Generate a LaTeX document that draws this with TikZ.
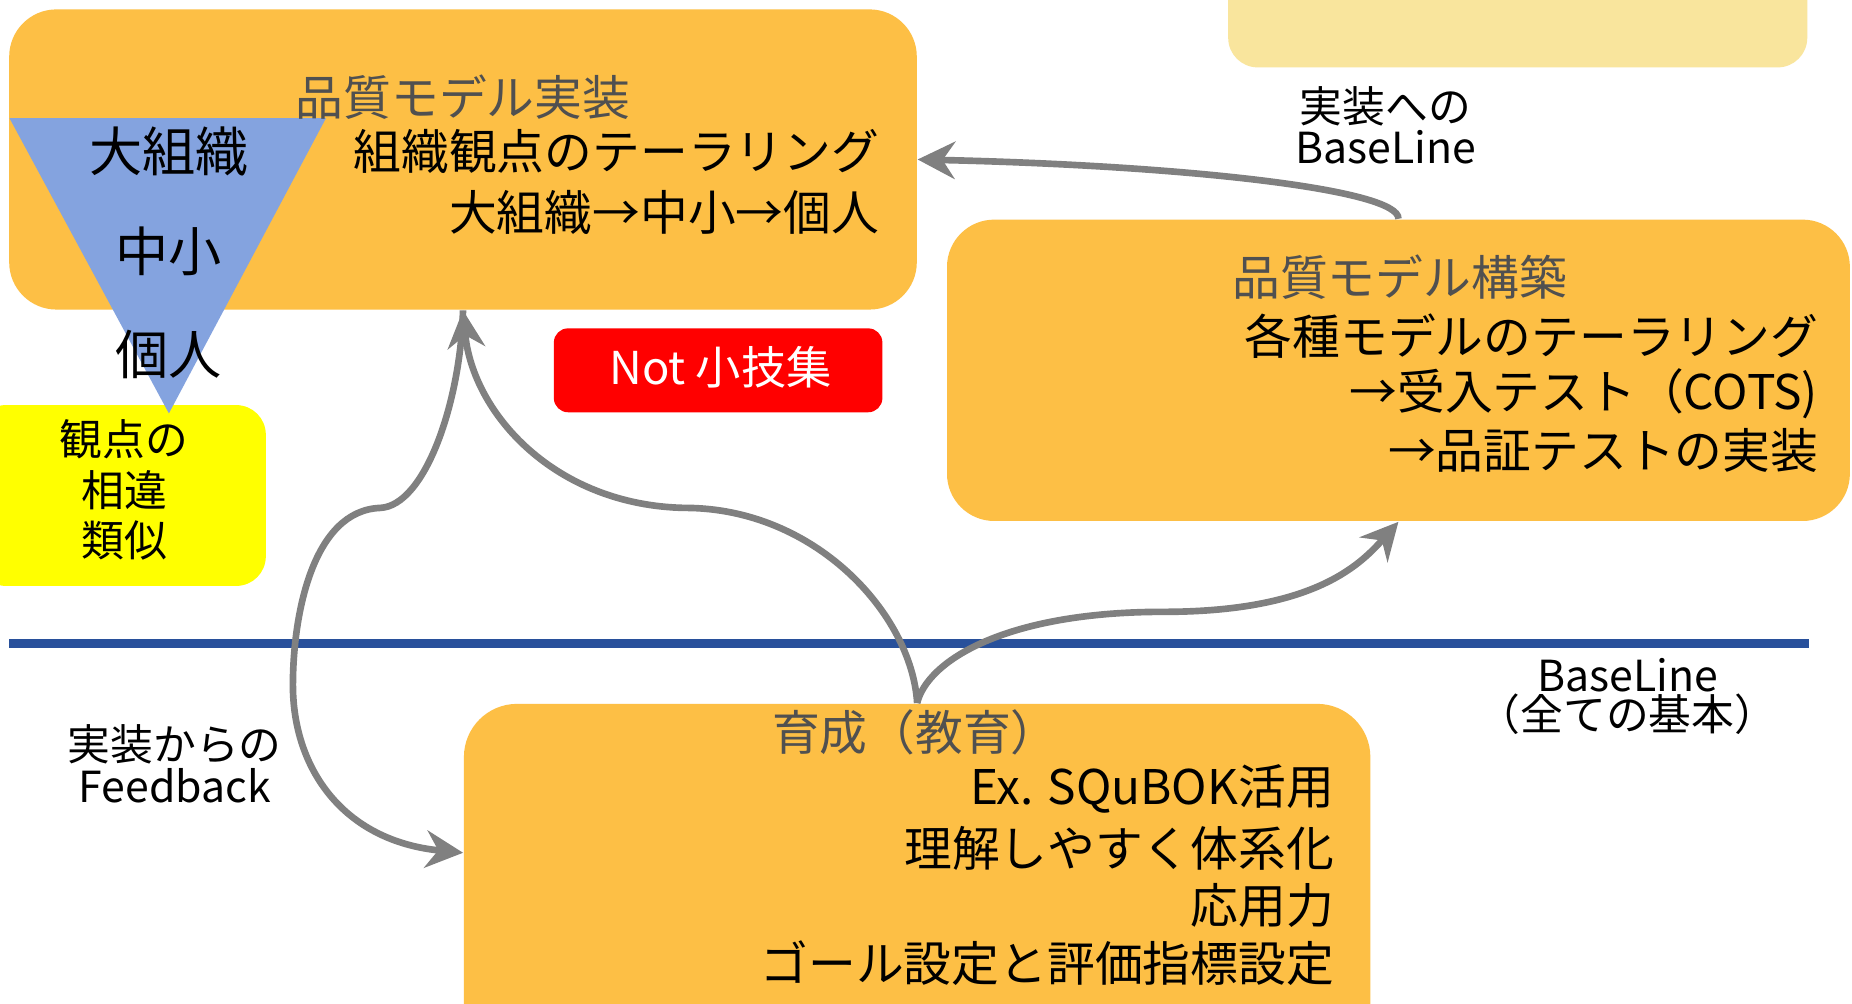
\documentclass[tikz,border=0pt]{standalone}
\usepackage{fontspec}
\setmainfont{Noto Sans CJK JP}
\usetikzlibrary{arrows.meta}
\definecolor{boxorange}{RGB}{253,191,69}
\definecolor{triblue}{RGB}{132,163,223}
\definecolor{titlegray}{RGB}{80,80,80}
\definecolor{arrgray}{RGB}{128,128,128}
\definecolor{baseblue}{RGB}{40,80,155}
\definecolor{paleyellow}{RGB}{249,229,157}
\definecolor{notred}{RGB}{255,0,0}
\definecolor{yel}{RGB}{255,255,0}
\tikzset{
  panel/.style={fill=boxorange, draw=none, rounded corners=0.4cm, inner sep=0},
  maintxt/.style={font=\fontsize{11.5}{13}\selectfont, inner sep=0, text=black},
  titletxt/.style={font=\fontsize{11.5}{13}\selectfont, inner sep=0, text=titlegray},
  tritxt/.style={font=\fontsize{12.8}{14}\selectfont, inner sep=0, text=black},
  smalltxt/.style={font=\fontsize{10.3}{12}\selectfont, inner sep=0, text=black},
  arr/.style={draw=arrgray, line width=1.6pt, -{Stealth[length=9pt,width=9pt,inset=3pt]}},
}
\begin{document}
\begin{tikzpicture}[x=0.01cm,y=-0.01cm]
\useasboundingbox (0,0) rectangle (1568,850);
\clip (0,0) rectangle (1568,850);
\fill[white] (0,0) rectangle (1568,850);

% top right pale box (cut off)
\node[fill=paleyellow, rounded corners=0.25cm, minimum width=4.9cm, minimum height=1.2cm, inner sep=0] (topbox) at (1285,-3) {};

% boxes
\node[panel, minimum width=7.68cm, minimum height=2.54cm] (impl) at (392,135) {};
\node[panel, minimum width=7.64cm, minimum height=2.55cm] (build) at (1184,313.5) {};
\node[panel, rounded corners=0.45cm, minimum width=7.67cm, minimum height=3.04cm] (edu) at (776.5,748) {};
\node[fill=notred, rounded corners=0.12cm, minimum width=2.78cm, minimum height=0.71cm, inner sep=0] (notbox) at (608,313.5) {};
\node[fill=yel, rounded corners=0.25cm, minimum width=2.45cm, minimum height=1.53cm, inner sep=0] (yelbox) at (102.5,419.5) {};

% triangle
\fill[triblue] (8,100) -- (276,100) -- (143,350) -- cycle;

% impl texts
\node[titletxt] (impltitle) at (392,82) {品質モデル実装};
\node[tritxt] (t1) at (143,128) {大組織};
\node[tritxt] (t2) at (143,213) {中小};
\node[tritxt] (t3) at (143,300) {個人};
\node[maintxt, anchor=east] (i1) at (745,128) {組織観点のテーラリング};
\node[maintxt, anchor=east] (i2) at (745,180) {大組織→中小→個人};

% not box text
\node[font=\fontsize{10.9}{12}\selectfont, text=white, inner sep=0] (nottxt) at (610,311) {Not 小技集};

% yellow text
\node[smalltxt] (y1) at (105,372) {観点の};
\node[smalltxt] (y2) at (105,415) {相違};
\node[smalltxt] (y3) at (105,458) {類似};

% build texts
\node[titletxt] (buildtitle) at (1185,235) {品質モデル構築};
\node[maintxt, anchor=east] (b1) at (1540,285) {各種モデルのテーラリング};
\node[maintxt, anchor=east] (b2) at (1540,333) {→受入テスト（COTS)};
\node[maintxt, anchor=east] (b3) at (1540,381) {→品証テストの実装};

% edu texts
\node[titletxt] (edutitle) at (775,620) {育成（教育）};
\node[maintxt, anchor=east] (e1) at (1130,668) {Ex. SQuBOK活用};
\node[maintxt, anchor=east] (e2) at (1130,718) {理解しやすく体系化};
\node[maintxt, anchor=east] (e3) at (1130,767) {応用力};
\node[maintxt, anchor=east] (e4) at (1130,815) {ゴール設定と評価指標設定};

% labels
\node[smalltxt] (la1) at (1173,90) {実装への};
\node[smalltxt] (la2) at (1173,125) {BaseLine};
\node[smalltxt] (lb1) at (1378,572) {BaseLine};
\node[smalltxt] (lb2) at (1378,605) {（全ての基本）};
\node[smalltxt] (lc1) at (148,630) {実装からの};
\node[smalltxt] (lc2) at (148,665) {Feedback};

% baseline
\draw[baseblue, line width=0.08cm] (8,545) -- (1532,545);

% arrows
\draw[arr] (build.north) .. controls (1185,160) and (1000,140) .. (impl.east);
\draw[arr] (edu.north) .. controls (772,520) and (690,430) .. (580,430)
           .. controls (470,428) and (400,350) .. (impl.south);
\draw[arr] (edu.north) .. controls (785,560) and (850,518) .. (985,518)
           .. controls (1110,518) and (1150,480) .. (build.south);
\draw[arr] (impl.south) .. controls (390,340) and (360,428) .. (322,430)
           .. controls (265,432) and (248,520) .. (248,580)
           .. controls (248,650) and (290,712) .. ([yshift=0.26cm]edu.west);
\end{tikzpicture}
\end{document}
